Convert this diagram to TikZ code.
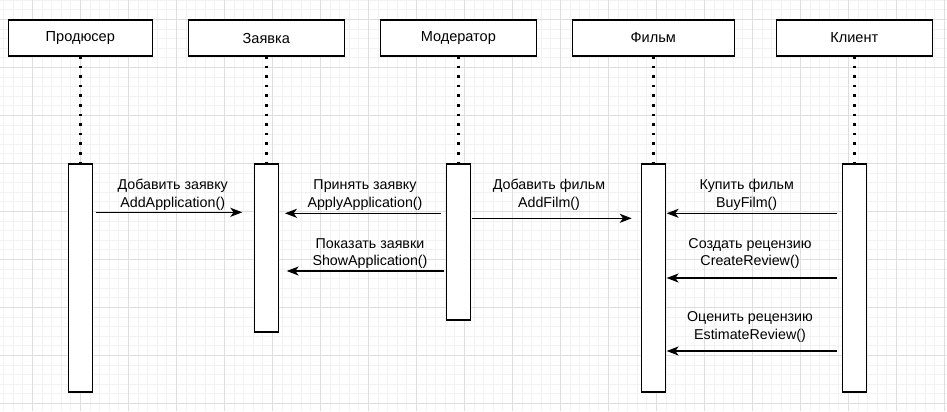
\documentclass[tikz,border=0pt]{standalone}
\usepackage{fontspec}
\setmainfont{Liberation Sans}
\usetikzlibrary{arrows.meta}
\begin{document}
\begin{tikzpicture}[x=0.75pt,y=-0.75pt,
  minorgrid/.style={draw=black!5,line width=0.6pt},
  majorgrid/.style={draw=black!13,line width=0.6pt},
  hdr/.style={draw=black,line width=0.9pt,fill=white,minimum height=27pt,inner sep=0pt,outer sep=0pt,font=\fontsize{10.9}{13}\selectfont},
  act/.style={draw=black,line width=0.9pt,fill=white,minimum width=18pt,inner sep=0pt,outer sep=0pt},
  life/.style={draw=black,line width=2pt,dash pattern=on 2pt off 5.2pt},
  msg/.style={draw=black,line width=0.85pt,-{Stealth[length=9pt,width=6.8pt,inset=2.5pt]}},
  lbl/.style={align=center,inner sep=0pt,font=\fontsize{10.7}{13.2}\selectfont}]
\useasboundingbox (0,0) rectangle (947,411);
\fill[white] (0,0) rectangle (947,411);
% grid
\foreach \i in {0,...,100} {
  \draw[minorgrid] ({-15.7+9.6*\i},0) -- ({-15.7+9.6*\i},411);
}
\foreach \i in {0,...,45} {
  \draw[minorgrid] (0,{-28.7+9.6*\i}) -- (947,{-28.7+9.6*\i});
}
\foreach \i in {0,...,20} {
  \draw[majorgrid] ({32.3+48*\i},0) -- ({32.3+48*\i},411);
}
\foreach \i in {0,...,8} {
  \draw[majorgrid] (0,{19.3+48*\i}) -- (947,{19.3+48*\i});
}
% headers
\node[hdr,minimum width=108pt] (p) at (80.3,38) {Продюсер};
\node[hdr,minimum width=117pt] (z) at (266.3,38) {Заявка};
\node[hdr,minimum width=117pt] (m) at (458.3,38) {Модератор};
\node[hdr,minimum width=121.5pt] (f) at (653.3,38) {Фильм};
\node[hdr,minimum width=117pt] (k) at (854.3,38) {Клиент};
% activations
\node[act,minimum height=171pt] (pa) at (80.3,278) {};
\node[act,minimum height=126pt] (za) at (266.3,248) {};
\node[act,minimum height=117pt] (ma) at (458.3,242) {};
\node[act,minimum height=171pt] (fa) at (653.3,278) {};
\node[act,minimum height=171pt] (ka) at (854.3,278) {};
% lifelines
\draw[life] (p.south) -- (pa.north);
\draw[life] (z.south) -- (za.north);
\draw[life] (m.south) -- (ma.north);
\draw[life] (f.south) -- (fa.north);
\draw[life] (k.south) -- (ka.north);
% message rows
\coordinate (y1) at (0,212.3);
\coordinate (y2) at (0,213.3);
\coordinate (y3) at (0,271);
\coordinate (y4) at (0,218.3);
\coordinate (y5) at (0,213.3);
\coordinate (y6) at (0,278);
\coordinate (y7) at (0,351);
% messages
\draw[msg,shorten <=2.5pt,shorten >=9pt] (pa.east |- y1) -- (za.west |- y1);
\draw[msg,shorten <=4pt,shorten >=5pt] (ma.west |- y2) -- (za.east |- y2);
\draw[msg,shorten <=1.5pt,shorten >=6.3pt] (ma.west |- y3) -- (za.east |- y3);
\draw[msg,shorten <=1.5pt,shorten >=7.2pt] (ma.east |- y4) -- (fa.west |- y4);
\draw[msg,shorten <=4.2pt,shorten >=1pt] (ka.west |- y5) -- (fa.east |- y5);
\draw[msg,shorten <=4.2pt,shorten >=1pt] (ka.west |- y6) -- (fa.east |- y6);
\draw[msg,shorten <=4.2pt,shorten >=1pt] (ka.west |- y7) -- (fa.east |- y7);
% labels
\node[lbl] (l1) at (172.7,195) {Добавить заявку\\AddApplication()};
\node[lbl] (l2) at (365,195) {Принять заявку\\ApplyApplication()};
\node[lbl] (l3) at (370,253.5) {Показать заявки\\ShowApplication()};
\node[lbl] (l4) at (549,195) {Добавить фильм\\AddFilm()};
\node[lbl] (l5) at (746.7,195) {Купить фильм\\BuyFilm()};
\node[lbl] (l6) at (750,253.5) {Создать рецензию\\CreateReview()};
\node[lbl] (l7) at (750,326.8) {Оценить рецензию\\EstimateReview()};
\end{tikzpicture}
\end{document}
